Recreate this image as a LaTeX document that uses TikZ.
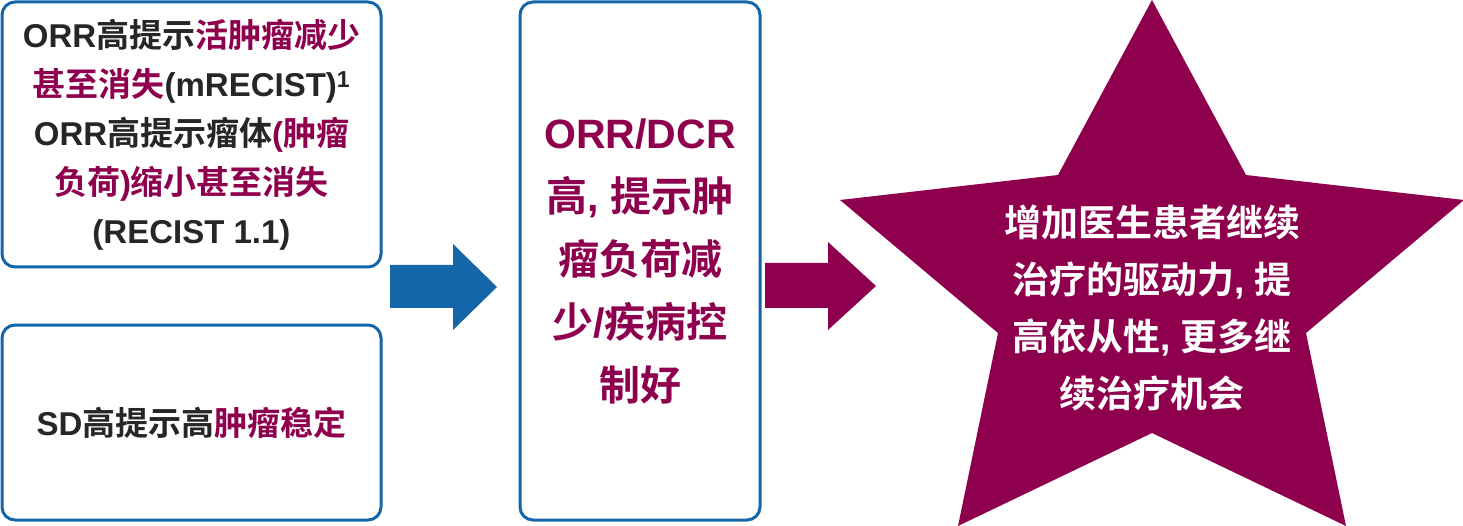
\documentclass[tikz,border=0pt]{standalone}
\usepackage{fontspec}
\setmainfont{Noto Sans CJK SC}[BoldFont={* Bold}]
\newfontfamily\latfont{Liberation Sans}
\newcommand{\lat}[1]{{\latfont #1}}
\newcommand{\hl}[1]{\textcolor{plum}{#1}}
\definecolor{boxblue}{HTML}{1565A9}
\definecolor{plum}{HTML}{8E004D}
\definecolor{ink}{HTML}{262626}

\begin{document}
\begin{tikzpicture}[x=1pt,y=-1pt,
    box/.style={draw=boxblue,line width=3pt,rounded corners=13pt,align=center,inner sep=0pt},
    leftfont/.style={font={\fontsize{33}{49}\selectfont\bfseries},text=ink},
    midfont/.style={font={\fontsize{41}{63}\selectfont\bfseries},text=plum},
    starfont/.style={font={\fontsize{37}{57}\selectfont\bfseries},text=white,align=center}]
        \useasboundingbox (0,0) rectangle (1463,526);

        \node[box,leftfont,minimum width=379pt,minimum height=265pt] (orr) at (191.5, 134.5)
            {\lat{ORR}高提示\hl{活肿瘤减少}\\
             \hl{甚至消失}\lat{(mRECIST)}\textsuperscript{\lat{1}}\\
             \lat{ORR}高提示瘤体\hl{\lat{(}肿瘤}\\
             \hl{负荷\lat{)}缩小甚至消失}\\
             \lat{(RECIST 1.1)}};
        \node[box,leftfont,minimum width=379pt,minimum height=195pt] (sd) at (191.5, 422.5)
            {\lat{SD}高提示高\hl{肿瘤稳定}};
        \node[box,midfont,minimum width=240pt,minimum height=518pt] (mid) at (640, 261)
            {\lat{ORR/DCR}\\
             高\lat{, }提示肿\\
             瘤负荷减\\
             少\lat{/}疾病控\\
             制好};

        % block arrows
        \fill[boxblue] (390,265) -- (453,265) -- (453,244) -- (497,287)
            -- (453,330) -- (453,308) -- (390,308) -- cycle;
        \fill[plum] (765,263) -- (828,263) -- (828,242) -- (876,286)
            -- (828,330) -- (828,308) -- (765,308) -- cycle;

        % star
        \fill[plum] (1152,0) -- (1246,175) -- (1464,200) -- (1306,333) -- (1346,526)
            -- (1152,433) -- (958,526) -- (998,333) -- (840,200) -- (1058,175) -- cycle;
        \node[starfont] (goal) at (1152, 308)
            {增加医生患者继续\\
             治疗的驱动力\lat{, }提\\
             高依从性\lat{, }更多继\\
             续治疗机会};
    \end{tikzpicture}
\end{document}
